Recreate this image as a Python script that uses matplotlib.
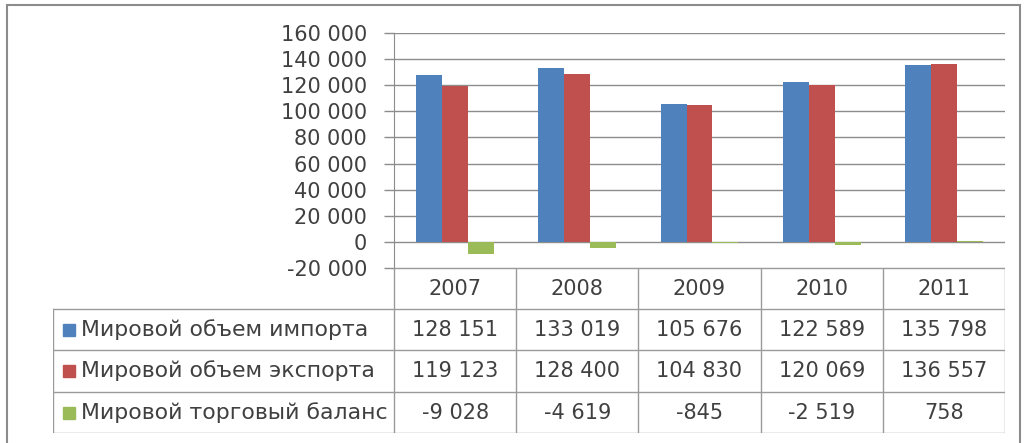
import numpy as np
import matplotlib.pyplot as plt
from matplotlib.patches import Rectangle

plt.rcParams['font.family'] = ['DejaVu Sans']

# Данные
years = ['2007', '2008', '2009', '2010', '2011']
series_names = ['Мировой объем импорта', 'Мировой объем экспорта', 'Мировой торговый баланс']
imports = [128151, 133019, 105676, 122589, 135798]
exports = [119123, 128400, 104830, 120069, 136557]
balance = [-9028, -4619, -845, -2519, 758]
colors = ['#4F81BD', '#C0504D', '#9BBB59']

W, H = 1026, 443
fig = plt.figure(figsize=(W / 100, H / 100), dpi=100)
fs = 15
tc = '#404040'

def fx(px):
    return px / W

def fy(py):
    return 1 - py / H

# рамка диаграммы (низ уходит за край)
fig.add_artist(Rectangle((fx(7), fy(460)), fx(1013), 455 / H, transform=fig.transFigure,
                         fill=False, edgecolor='#8c8c8c', linewidth=1.5))

# область графика
x0, x1, ytop, ybot = 394, 1005, 33, 268
ax = fig.add_axes([fx(x0), fy(ybot), fx(x1 - x0), (ybot - ytop) / H])
x = np.arange(len(years))
w = 0.212
all_series = [imports, exports, balance]
for i, vals in enumerate(all_series):
    ax.bar(x + (i - 1) * w, vals, width=w, color=colors[i], zorder=3)

ax.set_xlim(-0.5, len(years) - 0.5)
ax.set_ylim(-20000, 160000)
yt = np.arange(-20000, 160001, 20000)
ax.set_yticks(yt)
ax.set_yticklabels([f'{v:,}'.replace(',', ' ') for v in yt], fontsize=fs, color=tc)
ax.tick_params(axis='y', length=7.5, width=1, color='#8c8c8c', pad=12)
ax.set_xticks([])
ax.grid(axis='y', color='#8c8c8c', linewidth=1, zorder=0)
for s in ['top', 'right', 'bottom']:
    ax.spines[s].set_visible(False)
ax.spines['left'].set_color('#8c8c8c')

# таблица данных
tl, tr, tt, tb = 53, 1005, 268, 433
tax = fig.add_axes([fx(tl), fy(tb), fx(tr - tl), (tb - tt) / H])
tax.set_xlim(tl, tr)
tax.set_ylim(tb, tt)
tax.axis('off')
lc = '#9a9a9a'
col_w = (tr - x0) / len(years)
rows = [tt, 309, 350, 392, tb]
tax.plot([x0, tr], [tt, tt], color=lc, lw=1)
for r in rows[1:]:
    tax.plot([tl, tr], [r, r], color=lc, lw=1)
tax.plot([tl, tl], [rows[1], tb], color=lc, lw=1)
for j in range(len(years) + 1):
    xc = x0 + j * col_w
    tax.plot([xc, xc], [tt, tb], color=lc, lw=1)

for j, yr in enumerate(years):
    tax.text(x0 + (j + 0.5) * col_w, (rows[0] + rows[1]) / 2, yr,
             ha='center', va='center', fontsize=fs, color=tc)

for i, name in enumerate(series_names):
    yc = (rows[i + 1] + rows[i + 2]) / 2
    tax.add_patch(Rectangle((63, yc - 6), 12, 12, color=colors[i]))
    tax.text(81, yc, name, ha='left', va='center', fontsize=15.8, color=tc)
    for j, v in enumerate(all_series[i]):
        tax.text(x0 + (j + 0.5) * col_w, yc, f'{v:,}'.replace(',', ' '),
                 ha='center', va='center', fontsize=fs, color=tc)

fig.savefig('out.png', dpi=100)
